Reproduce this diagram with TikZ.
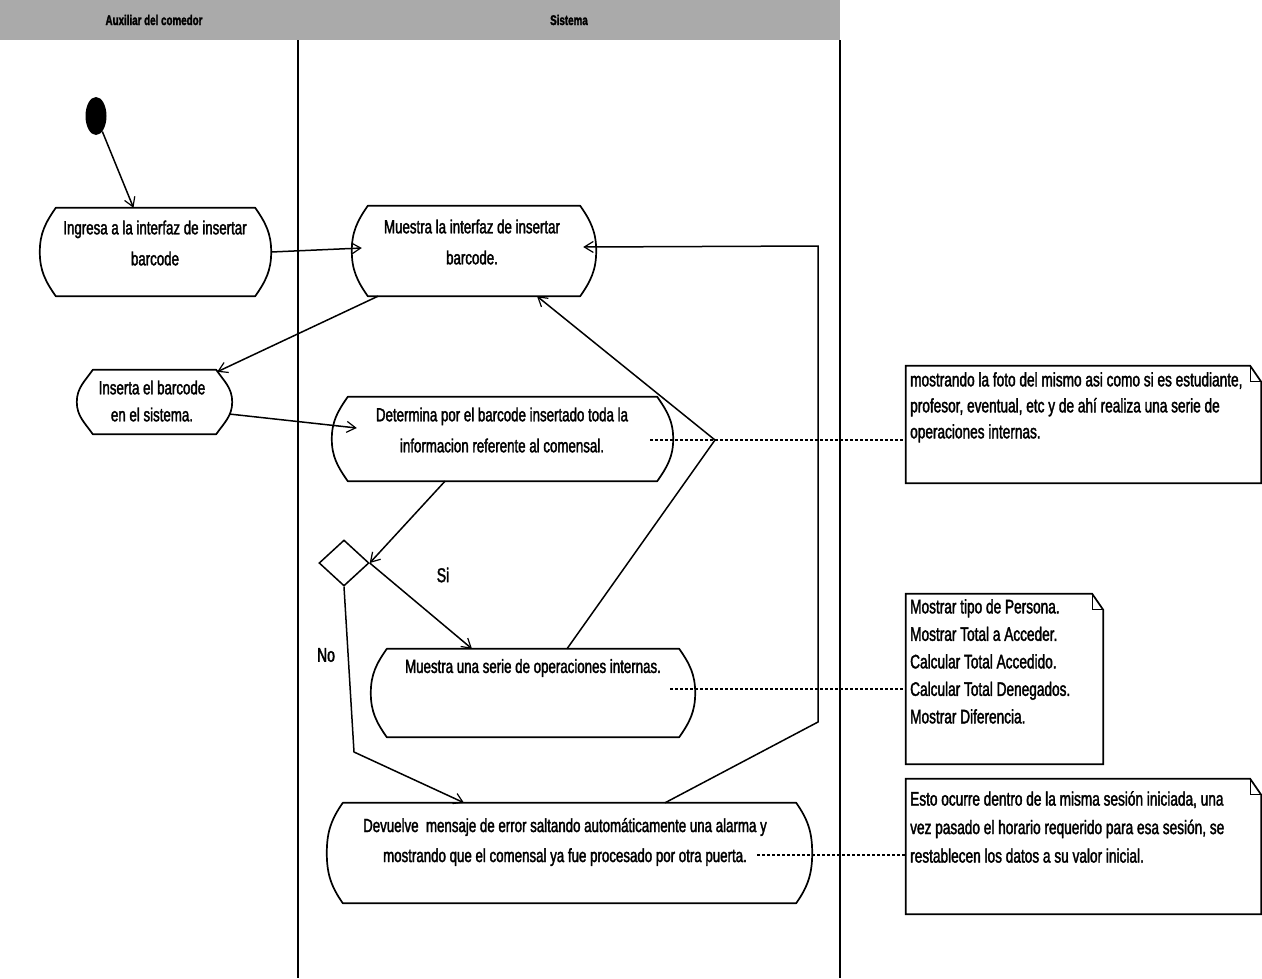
\documentclass[tikz,border=0pt]{standalone}
\usepackage{fontspec}
\usetikzlibrary{arrows.meta,shapes.geometric,calc}
\newfontfamily\diafont{Liberation Sans}[FakeStretch=0.70,FakeBold=1.8]
\definecolor{headgray}{RGB}{170,170,170}

\begin{document}
\begin{tikzpicture}[x=1pt,y=1pt,
  acttext/.style={font=\diafont\fontsize{19}{31}\selectfont, align=center, inner sep=0pt},
  notetext/.style={font=\diafont\fontsize{19.5}{27}\selectfont, align=left, inner sep=0pt, anchor=north west},
  shapebox/.style={inner sep=0pt, draw=none},
  outline/.style={draw=black, line width=1.7pt},
  flow/.style={draw=black, line width=1.5pt, -{Straight Barb[length=9pt,width=11pt,line width=1.2pt]}},
  noteline/.style={draw=black, line width=1.3pt, dash pattern=on 3pt off 2pt},
  lane/.style={draw=black, line width=1.4pt},
  lanehead/.style={font=\diafont\bfseries\fontsize{14}{16}\selectfont, inner sep=0pt},
  guard/.style={font=\diafont\fontsize{20}{22}\selectfont, inner sep=0pt},
]
\useasboundingbox (0,0) rectangle (1262,-978);
\fill[white] (0,0) rectangle (1262,-978);

% swimlane header and lane borders
\fill[headgray] (0,0) rectangle (840,-40);
\node[lanehead] (laneA) at (154,-20) {Auxiliar del comedor};
\node[lanehead] (laneB) at (569,-20) {Sistema};
\draw[lane] (298,-40) -- (298,-978);
\draw[lane] (840,-40) -- (840,-978);

% initial state
\node[ellipse, fill=black, minimum width=21pt, minimum height=38pt, inner sep=0pt] (start) at (96,-116) {};

% activity outlines (text placed separately)
\node[shapebox, minimum width=231pt, minimum height=88pt] (a1) at (155.5,-252) {};
\node[shapebox, minimum width=244pt, minimum height=90pt] (a2) at (474,-251) {};
\node[shapebox, minimum width=155pt, minimum height=64pt] (a3) at (154.5,-402) {};
\node[shapebox, minimum width=341pt, minimum height=84pt] (a4) at (502.5,-439) {};
\node[shapebox, minimum width=324pt, minimum height=88pt] (a5) at (533,-693) {};
\node[shapebox, minimum width=485pt, minimum height=100pt] (a6) at (569.5,-853) {};

\foreach \n in {a1,a2,a3,a4,a5,a6}{
  \draw[outline, line join=round]
    ([xshift=16pt]\n.north west) -- ([xshift=-16pt]\n.north east)
    to[out=-55,in=90] (\n.east)
    to[out=-90,in=55] ([xshift=-16pt]\n.south east)
    -- ([xshift=16pt]\n.south west)
    to[out=125,in=-90] (\n.west)
    to[out=90,in=-125] ([xshift=16pt]\n.north west) -- cycle;
}

\node[acttext] (a1t) at (155,-243) {Ingresa a la interfaz de insertar\\barcode};
\node[acttext] (a2t) at (472,-242) {Muestra la interfaz de insertar\\barcode.};
\node[acttext, font=\diafont\fontsize{19}{27}\selectfont] (a3t) at (152,-401) {Inserta el barcode\\en el sistema.};
\node[acttext] (a4t) at (502,-430) {Determina por el barcode insertado toda la\\informacion referente al comensal.};
\node[acttext] (a5t) at (533,-668) {Muestra una serie de operaciones internas.};
\node[acttext, font=\diafont\fontsize{19}{30}\selectfont] (a6t) at (565,-842) {Devuelve\ \ mensaje de error saltando autom\'aticamente una alarma y\\mostrando que el comensal ya fue procesado por otra puerta.};

% decision
\node[diamond, draw=black, line width=1.5pt, minimum width=50pt, minimum height=46pt, inner sep=0pt] (dec) at (344,-563) {};

% notes
\node[shapebox, minimum width=355pt, minimum height=117pt] (n1) at (1083.5,-424.5) {};
\node[shapebox, minimum width=197pt, minimum height=170pt] (n2) at (1004.5,-679) {};
\node[shapebox, minimum width=355pt, minimum height=135pt] (n3) at (1083.5,-846.5) {};
\foreach \n in {n1,n2,n3}{
  \draw[outline]
    (\n.north west) -- ([xshift=-11pt]\n.north east) -- ([yshift=-16pt]\n.north east)
    -- (\n.south east) -- (\n.south west) -- cycle;
  \draw[outline, line width=1.2pt] ([xshift=-11pt]\n.north east) |- ([yshift=-16pt]\n.north east);
}
\node[notetext, font=\diafont\fontsize{19.5}{26}\selectfont] (n1t) at (910,-372) {mostrando la foto del mismo asi como si es estudiante,\\profesor, eventual, etc y de ah\'i realiza una serie de\\operaciones internas.};
\node[notetext, font=\diafont\fontsize{19.5}{27.5}\selectfont] (n2t) at (910,-599) {Mostrar tipo de Persona.\\Mostrar Total a Acceder.\\Calcular Total Accedido.\\Calcular Total Denegados.\\Mostrar Diferencia.};
\node[notetext, font=\diafont\fontsize{19.5}{28.5}\selectfont] (n3t) at (910,-791) {Esto ocurre dentro de la misma sesi\'on iniciada, una\\vez pasado el horario requerido para esa sesi\'on, se\\restablecen los datos a su valor inicial.};

% attachment points on the activities
\coordinate (a1in)  at ($(a1.north)+(-22,0)$);
\coordinate (a2inL) at ($(a2.west)+(10,3)$);
\coordinate (a2out) at ($(a2.south)+(-96,0)$);
\coordinate (a3in)  at ($(a3.north east)+(-15,-2)$);
\coordinate (a3out) at ($(a3.east)+(-3,-12)$);
\coordinate (a4in)  at ($(a4.west)+(25,11)$);
\coordinate (a4out) at ($(a4.south)+(-57.5,0)$);
\coordinate (a5in)  at ($(a5.north)+(-61,0)$);
\coordinate (a5out) at ($(a5.north)+(34,0)$);
\coordinate (a2inB) at ($(a2.south)+(63,0)$);
\coordinate (a6in)  at ($(a6.north)+(-105.5,0)$);
\coordinate (a6out) at ($(a6.north)+(95.5,0)$);
\coordinate (a2inR) at ($(a2.east)+(-13,4)$);
\coordinate (bendA) at (715,-440);
\coordinate (bendNo) at (354,-752);
\coordinate (bendR1) at (818,-722);
\coordinate (bendR2) at (818,-246);

% control flow
\draw[flow] (start) -- (a1in);
\draw[flow] (a1.east) -- (a2inL);
\draw[flow] (a2out) -- (a3in);
\draw[flow] (a3out) -- (a4in);
\draw[flow] (a4out) -- (dec.east);
\draw[flow] (dec.east) -- (a5in);
\draw[flow] (dec.south) -- (bendNo) -- (a6in);
\draw[flow] (a5out) -- (bendA) -- (a2inB);
\draw[flow] (a6out) -- (bendR1) -- (bendR2) -- (a2inR);
\node[guard] (si) at (443,-575) {Si};
\node[guard] (no) at (326,-655) {No};

% note anchors
\coordinate (n1a) at (650,-440);
\coordinate (n2a) at (670,-689);
\coordinate (n3a) at (757,-855);
\draw[noteline] (n1a) -- (n1a -| n1.west);
\draw[noteline] (n2a) -- (n2a -| n2.west);
\draw[noteline] (n3a) -- (n3a -| n3.west);
\end{tikzpicture}
\end{document}
